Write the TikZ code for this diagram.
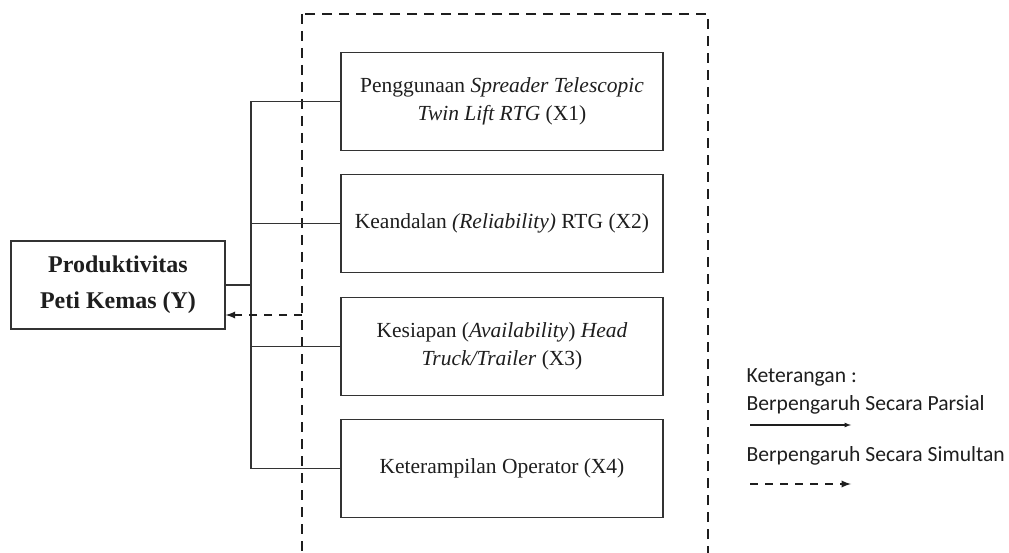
\documentclass[tikz,border=0pt]{standalone}
\usepackage{fontspec}
\setmainfont{Liberation Serif}
\newfontfamily\legendfont{Carlito}
\usepackage{tikz}
\definecolor{gray800}{HTML}{333333}
\definecolor{gray900}{HTML}{1E1E1E}
\usetikzlibrary{arrows}
\tikzstyle{variabel}=[draw=gray800, text=gray900, line width=1.3pt, minimum width=322pt, minimum height=98pt, align=center, font=\fontsize{21.5}{28}\selectfont]
\tikzstyle{terikat}=[variabel, minimum width=214pt, minimum height=88pt, font=\bfseries\fontsize{24}{36}\selectfont]
\tikzstyle{keterangan}=[anchor=west, inner sep=0pt, text=gray900, font=\legendfont\fontsize{21.6}{25}\selectfont]
\tikzstyle{simultan}=[draw=gray900, line width=2.2pt, dash pattern=on 8pt off 7pt]

\begin{document}
\begin{tikzpicture}[x=1pt, y=-1pt, line width=1.3pt]
			\clip (0,0) rectangle (1009,553);
			\path[draw=gray900, line width=2.8pt, dash pattern=on 10pt off 7pt] (302,14) rectangle (708,575);
			\node[terikat] (y) at (118,285) {Produktivitas\\Peti Kemas (Y)};
			\node[variabel] (x1) at (502,101.5) {Penggunaan \textit{Spreader Telescopic}\\\textit{Twin Lift RTG} (X1)};
			\node[variabel] (x2) at (502,223.5) {Keandalan \textit{(Reliability)} RTG (X2)};
			\node[variabel] (x3) at (502,346.5) {Kesiapan (\textit{Availability}) \textit{Head}\\\textit{Truck/Trailer} (X3)};
			\node[variabel] (x4) at (502,468.5) {Keterampilan Operator (X4)};
			\coordinate (cabang) at (251,285);
			\coordinate (batas) at (302,315);
			\path[draw=gray800] (y.east)--(cabang)(cabang |- x1.west)--(cabang |- x4.west)
				(cabang |- x1.west)--(x1.west)(cabang |- x2.west)--(x2.west)
				(cabang |- x3.west)--(x3.west)(cabang |- x4.west)--(x4.west);
			\path[simultan, -latex] (batas)--(y.east |- batas);
			% keterangan
			\node[keterangan] (ket) at (746,377) {Keterangan :};
			\node[keterangan] (parsial) at (746,405) {Berpengaruh Secara Parsial};
			\node[keterangan] (serentak) at (746,456) {Berpengaruh Secara Simultan};
			\coordinate (p1) at (750,425);
			\coordinate (p2) at (851,425);
			\coordinate (s1) at (750,484);
			\coordinate (s2) at (851,484);
			\path[draw=gray900, line width=1.2pt, -latex] (p1)--(p2);
			\path[simultan, -latex] (s1)--(s2);
		\end{tikzpicture}
\end{document}
